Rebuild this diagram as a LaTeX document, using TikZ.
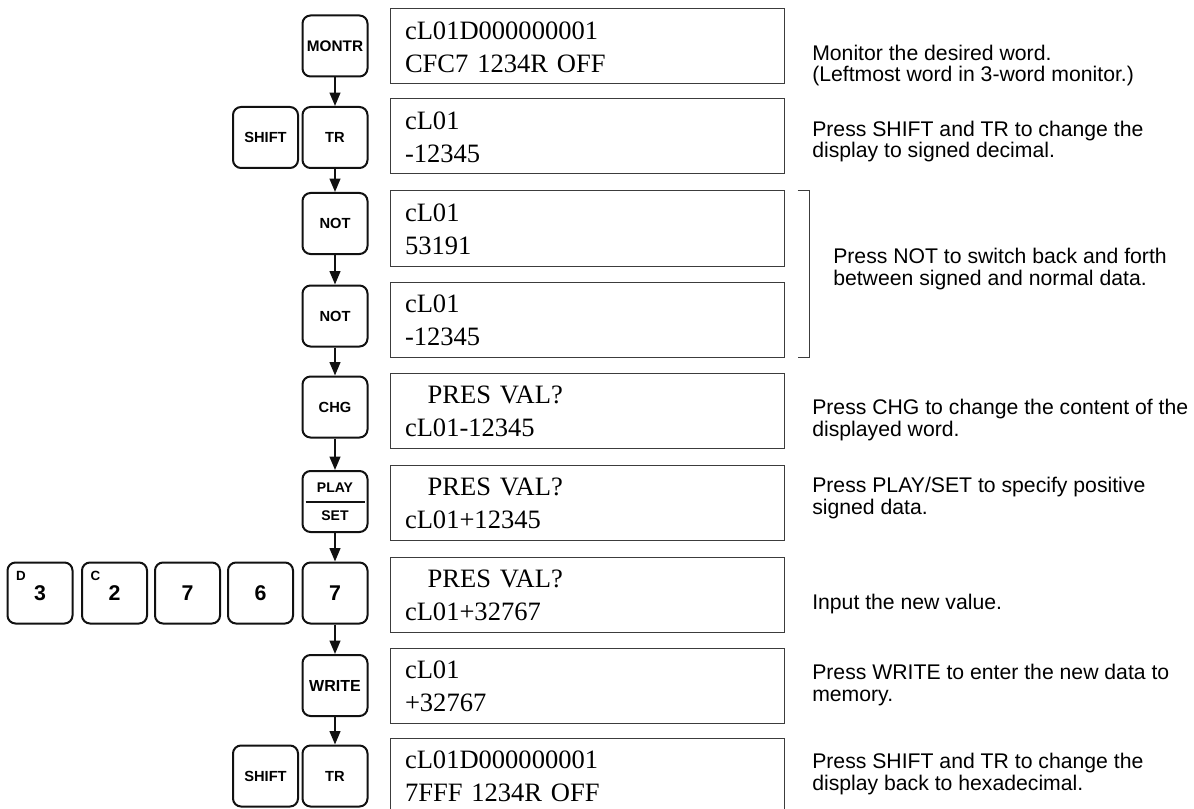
\documentclass[tikz,border=0pt]{standalone}
\usepackage{fontspec}
\setmainfont{Liberation Serif}
\setsansfont{Liberation Sans}
\usepackage{tikz}
\usetikzlibrary{positioning, arrows.meta, calc}
\definecolor{ink}{HTML}{111111}
\definecolor{lcdline}{HTML}{3C3C3C}

\newcommand\lcdrule{\rule[-4.9pt]{0pt}{24.75pt}}

\tikzset{
  keycap/.style={draw=ink, line width=1.5pt, rounded corners=6pt,
    minimum width=48.75pt, minimum height=45.75pt, inner sep=0pt,
    font=\sffamily\bfseries\fontsize{11}{13}\selectfont},
  digit/.style={keycap, font=\sffamily\bfseries\fontsize{16}{18}\selectfont},
  corner/.style={anchor=north west, inner sep=0pt, xshift=7pt, yshift=-7pt,
    font=\sffamily\bfseries\fontsize{10}{11}\selectfont},
  lcd/.style={draw=lcdline, line width=0.75pt, minimum height=56.25pt,
    text width=273pt, inner xsep=11.25pt, inner ysep=0pt, align=left,
    font=\fontsize{19.9}{24.75}\selectfont},
  note/.style={anchor=base west, align=left, inner sep=0pt,
    font=\sffamily\fontsize{15.9}{16}\selectfont},
  flow/.style={-{Triangle[length=10pt,width=8pt]}, line width=1.5pt, draw=ink},
}

\begin{document}
\begin{tikzpicture}[x=0.75pt, y=-0.75pt]
  \useasboundingbox (0,0) rectangle (1194,809);
  % key column, one key per display step
  \node[keycap, font=\sffamily\bfseries\fontsize{11.5}{13}\selectfont] (montr) at (335,46) {MONTR};
  \node[keycap] (tr1) at (335,137.5) {TR};
  \node[keycap] (shift1) at (265.5,137.5) {SHIFT};
  \node[keycap] (not1) at (335,223.5) {NOT};
  \node[keycap] (not2) at (335,316) {NOT};
  \node[keycap] (chg) at (335,407) {CHG};
  \node[keycap, align=center, font=\sffamily\bfseries\fontsize{10.5}{21}\selectfont] (play) at (335,501.5) {PLAY\\SET};
  \draw[ink, line width=1.5pt] ([xshift=3pt]play.west) -- ([xshift=-3pt]play.east);
  \node[digit] (n7b) at (335,593) {7};
  \node[digit] (n6) at (260.5,593) {6};
  \node[digit] (n7a) at (187.5,593) {7};
  \node[digit, label={[corner]north west:C}] (n2) at (114.5,593) {2};
  \node[digit, label={[corner]north west:D}] (n3) at (40,593) {3};
  \node[keycap, font=\sffamily\bfseries\fontsize{12}{13}\selectfont] (write) at (335,685.5) {WRITE};
  \node[keycap] (tr2) at (335,776) {TR};
  \node[keycap] (shift2) at (265.5,776) {SHIFT};

  \foreach \a/\b in {montr/tr1, tr1/not1, not1/not2, not2/chg, chg/play,
                     play/n7b, n7b/write, write/tr2}
    \draw[flow] (\a) -- (\b);

  % displays
  \foreach \n/\y/\la/\lb in {
      1/46.5/cL01D000000001/CFC7 1234R OFF,
      2/136.5/cL01/-12345,
      3/228.5/cL01/53191,
      4/319.5/cL01/-12345,
      5/410.5/{\hspace*{17pt}PRES VAL?}/cL01-12345,
      6/502.5/{\hspace*{17pt}PRES VAL?}/cL01+12345,
      7/594.5/{\hspace*{17pt}PRES VAL?}/cL01+32767,
      8/685.5/cL01/+32767,
      9/775.5/cL01D000000001/7FFF 1234R OFF}
    \node[lcd] (d\n) at (587,\y) {\lcdrule\la\\\lcdrule\lb};

  \draw[lcdline, line width=0.75pt] ($(d3.north east)+(13,0)$) -| ($(d4.south east)+(25,0)$)
    -- ($(d4.south east)+(13,0)$);

  % notes (base = last line)
  \node[note] (t1) at (812,82) {Monitor the desired word.\\(Leftmost word in 3-word monitor.)};
  \node[note] (t2) at (812,158) {Press SHIFT and TR to change the\\display to signed decimal.};
  \node[note] (t3) at (833,285) {Press NOT to switch back and forth\\between signed and normal data.};
  \node[note] (t4) at (812,436) {Press CHG to change the content of the\\displayed word.};
  \node[note] (t5) at (812,514) {Press PLAY/SET to specify positive\\signed data.};
  \node[note] (t6) at (812,609) {Input the new value.};
  \node[note] (t7) at (812,701) {Press WRITE to enter the new data to\\memory.};
  \node[note] (t8) at (812,790) {Press SHIFT and TR to change the\\display back to hexadecimal.};
\end{tikzpicture}
\end{document}
